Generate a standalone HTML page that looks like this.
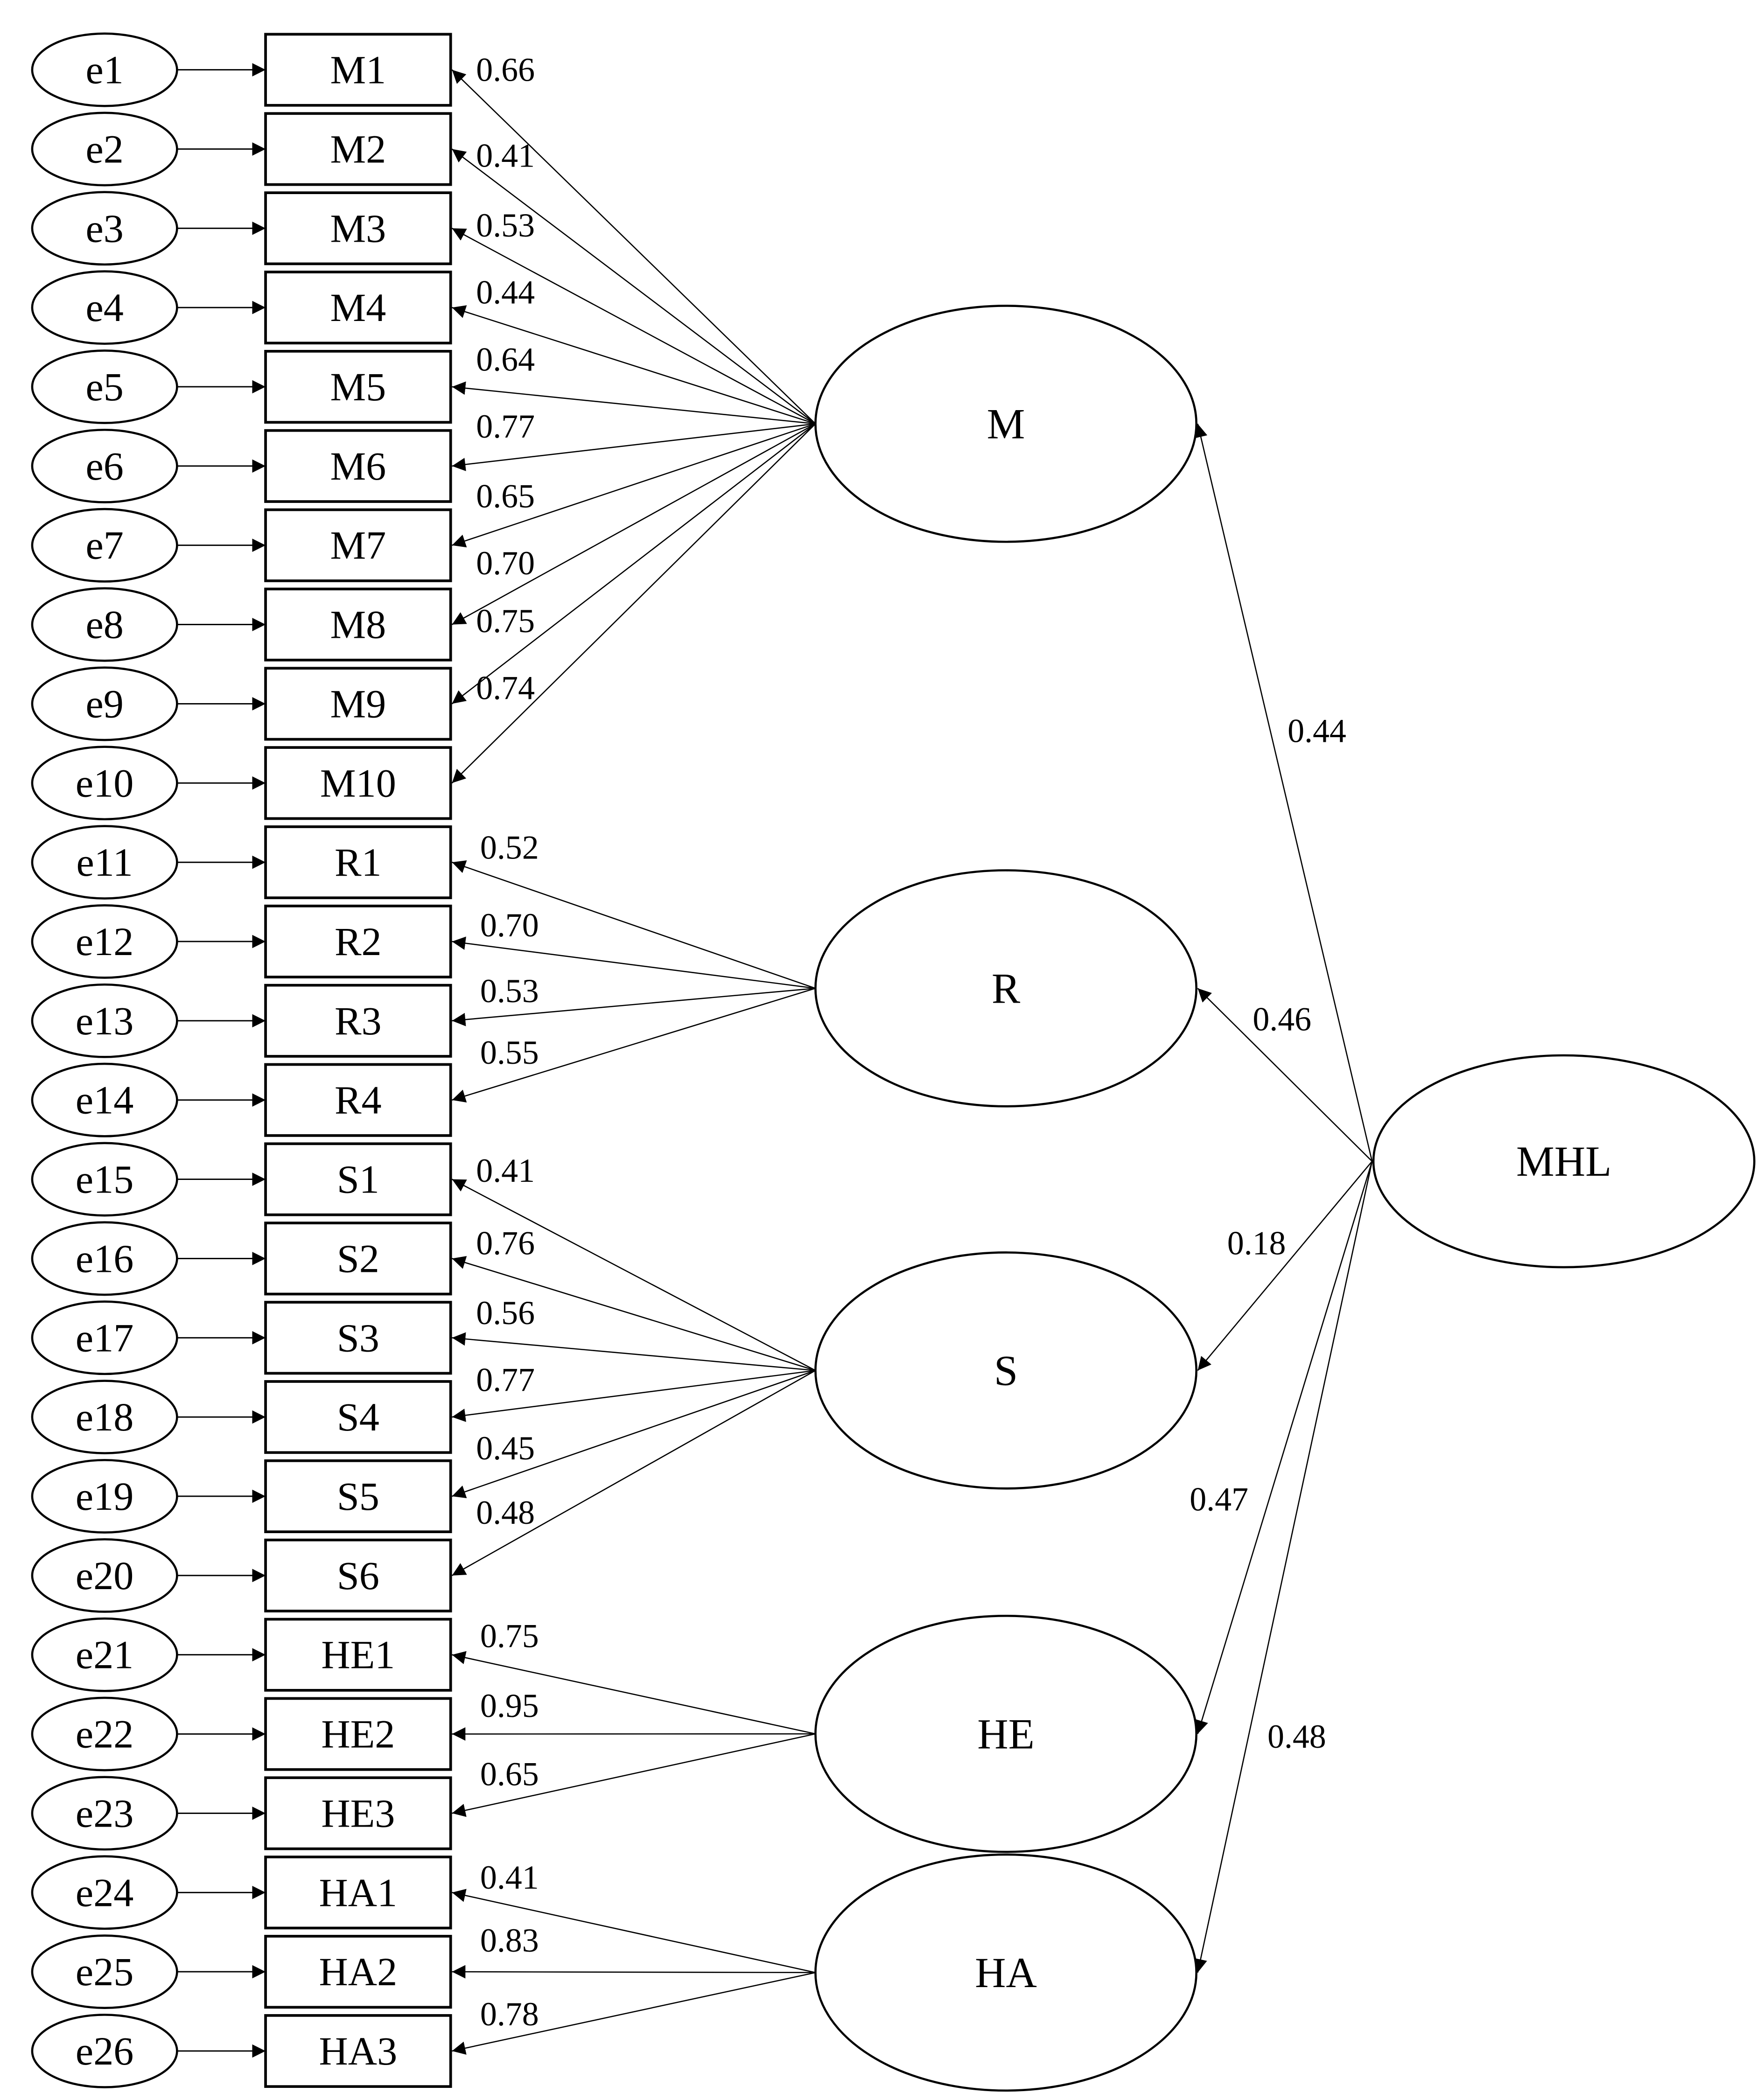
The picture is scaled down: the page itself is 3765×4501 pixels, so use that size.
<!DOCTYPE html>
<html><head><meta charset="utf-8"><style>html,body{margin:0;padding:0;background:#fff}svg{display:block}</style></head>
<body>
<svg xmlns="http://www.w3.org/2000/svg" width="3765" height="4501" viewBox="0 0 1310 1566" font-family="Liberation Serif, serif">
<defs>
<marker id="a" viewBox="0 0 10 10" refX="10" refY="5" markerWidth="10" markerHeight="10" markerUnits="userSpaceOnUse" orient="auto"><path d="M0,0L10,5L0,10z" fill="#000"/></marker>
<g id="row">
<ellipse cx="78" cy="0" rx="54" ry="27" fill="none" stroke="#000" stroke-width="1.6"/>
<line x1="132" y1="0" x2="198" y2="0" stroke="#000" stroke-width="1" marker-end="url(#a)"/>
<rect x="198" y="-26.5" width="138" height="53" fill="none" stroke="#000" stroke-width="2"/>
</g>
</defs>
<rect width="1310" height="1566" fill="#fff"/>
<use href="#row" y="52"/><use href="#row" y="111.1"/><use href="#row" y="170.2"/><use href="#row" y="229.3"/><use href="#row" y="288.4"/><use href="#row" y="347.5"/><use href="#row" y="406.6"/><use href="#row" y="465.7"/><use href="#row" y="524.8"/><use href="#row" y="583.9"/><use href="#row" y="643"/><use href="#row" y="702.1"/><use href="#row" y="761.2"/><use href="#row" y="820.3"/><use href="#row" y="879.4"/><use href="#row" y="938.5"/><use href="#row" y="997.6"/><use href="#row" y="1056.7"/><use href="#row" y="1115.8"/><use href="#row" y="1174.9"/><use href="#row" y="1234"/><use href="#row" y="1293.1"/><use href="#row" y="1352.2"/><use href="#row" y="1411.3"/><use href="#row" y="1470.4"/><use href="#row" y="1529.5"/>
<g font-size="30" text-anchor="middle" dominant-baseline="central">
<text x="78" y="52">e1</text><text x="78" y="111.1">e2</text><text x="78" y="170.2">e3</text><text x="78" y="229.3">e4</text><text x="78" y="288.4">e5</text><text x="78" y="347.5">e6</text><text x="78" y="406.6">e7</text><text x="78" y="465.7">e8</text><text x="78" y="524.8">e9</text><text x="78" y="583.9">e10</text><text x="78" y="643">e11</text><text x="78" y="702.1">e12</text><text x="78" y="761.2">e13</text><text x="78" y="820.3">e14</text><text x="78" y="879.4">e15</text><text x="78" y="938.5">e16</text><text x="78" y="997.6">e17</text><text x="78" y="1056.7">e18</text><text x="78" y="1115.8">e19</text><text x="78" y="1174.9">e20</text><text x="78" y="1234">e21</text><text x="78" y="1293.1">e22</text><text x="78" y="1352.2">e23</text><text x="78" y="1411.3">e24</text><text x="78" y="1470.4">e25</text><text x="78" y="1529.5">e26</text>
<text x="267" y="52">M1</text><text x="267" y="111.1">M2</text><text x="267" y="170.2">M3</text><text x="267" y="229.3">M4</text><text x="267" y="288.4">M5</text><text x="267" y="347.5">M6</text><text x="267" y="406.6">M7</text><text x="267" y="465.7">M8</text><text x="267" y="524.8">M9</text><text x="267" y="583.9">M10</text><text x="267" y="643">R1</text><text x="267" y="702.1">R2</text><text x="267" y="761.2">R3</text><text x="267" y="820.3">R4</text><text x="267" y="879.4">S1</text><text x="267" y="938.5">S2</text><text x="267" y="997.6">S3</text><text x="267" y="1056.7">S4</text><text x="267" y="1115.8">S5</text><text x="267" y="1174.9">S6</text><text x="267" y="1234">HE1</text><text x="267" y="1293.1">HE2</text><text x="267" y="1352.2">HE3</text><text x="267" y="1411.3">HA1</text><text x="267" y="1470.4">HA2</text><text x="267" y="1529.5">HA3</text>
</g>
<g stroke="#000" stroke-width="0.9" marker-end="url(#a)">
<line x1="608" y1="316" x2="337" y2="52"/><line x1="608" y1="316" x2="337" y2="111.1"/><line x1="608" y1="316" x2="337" y2="170.2"/><line x1="608" y1="316" x2="337" y2="229.3"/><line x1="608" y1="316" x2="337" y2="288.4"/><line x1="608" y1="316" x2="337" y2="347.5"/><line x1="608" y1="316" x2="337" y2="406.6"/><line x1="608" y1="316" x2="337" y2="465.7"/><line x1="608" y1="316" x2="337" y2="524.8"/><line x1="608" y1="316" x2="337" y2="583.9"/>
<line x1="608" y1="737" x2="337" y2="643"/><line x1="608" y1="737" x2="337" y2="702.1"/><line x1="608" y1="737" x2="337" y2="761.2"/><line x1="608" y1="737" x2="337" y2="820.3"/>
<line x1="608" y1="1022" x2="337" y2="879.4"/><line x1="608" y1="1022" x2="337" y2="938.5"/><line x1="608" y1="1022" x2="337" y2="997.6"/><line x1="608" y1="1022" x2="337" y2="1056.7"/><line x1="608" y1="1022" x2="337" y2="1115.8"/><line x1="608" y1="1022" x2="337" y2="1174.9"/>
<line x1="608" y1="1293" x2="337" y2="1234"/><line x1="608" y1="1293" x2="337" y2="1293.1"/><line x1="608" y1="1293" x2="337" y2="1352.2"/>
<line x1="608" y1="1471" x2="337" y2="1411.3"/><line x1="608" y1="1471" x2="337" y2="1470.4"/><line x1="608" y1="1471" x2="337" y2="1529.5"/>
<line x1="1023" y1="866" x2="893" y2="316"/>
<line x1="1023" y1="866" x2="893" y2="737"/>
<line x1="1023" y1="866" x2="893" y2="1022"/>
<line x1="1023" y1="866" x2="893" y2="1293"/>
<line x1="1023" y1="866" x2="893" y2="1471"/>
</g>
<g fill="#fff" stroke="#000" stroke-width="1.6">
<ellipse cx="750" cy="316" rx="142" ry="88"/>
<ellipse cx="750" cy="737" rx="142" ry="88"/>
<ellipse cx="750" cy="1022" rx="142" ry="88"/>
<ellipse cx="750" cy="1293" rx="142" ry="88"/>
<ellipse cx="750" cy="1471" rx="142" ry="88"/>
<ellipse cx="1166" cy="866" rx="142" ry="79"/>
</g>
<g font-size="32" text-anchor="middle" dominant-baseline="central">
<text x="750" y="316">M</text><text x="750" y="737">R</text><text x="750" y="1022">S</text><text x="750" y="1293">HE</text><text x="750" y="1471">HA</text><text x="1166" y="866">MHL</text>
</g>
<g font-size="25" dominant-baseline="central">
<text x="960" y="545">0.44</text><text x="934" y="760">0.46</text><text x="915" y="927">0.18</text><text x="887" y="1118">0.47</text><text x="945" y="1295">0.48</text>
<text x="355" y="52">0.66</text><text x="355" y="116">0.41</text><text x="355" y="168">0.53</text><text x="355" y="218">0.44</text><text x="355" y="268">0.64</text><text x="355" y="318">0.77</text><text x="355" y="370">0.65</text><text x="355" y="420">0.70</text><text x="355" y="463">0.75</text><text x="355" y="513">0.74</text>
<text x="358" y="632">0.52</text><text x="358" y="690">0.70</text><text x="358" y="739">0.53</text><text x="358" y="785">0.55</text>
<text x="355" y="873">0.41</text><text x="355" y="927">0.76</text><text x="355" y="979">0.56</text><text x="355" y="1029">0.77</text><text x="355" y="1080">0.45</text><text x="355" y="1128">0.48</text>
<text x="358" y="1220">0.75</text><text x="358" y="1272">0.95</text><text x="358" y="1323">0.65</text>
<text x="358" y="1400">0.41</text><text x="358" y="1447">0.83</text><text x="358" y="1502">0.78</text>
</g>
</svg>
</body></html>
